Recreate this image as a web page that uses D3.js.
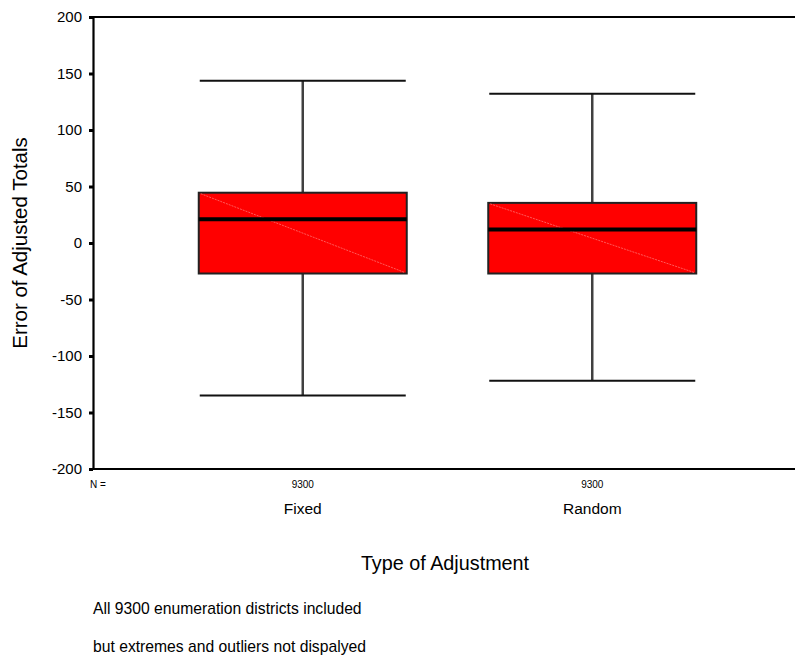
<!DOCTYPE html>
<html>
<head>
<meta charset="utf-8">
<script src="https://cdn.jsdelivr.net/npm/d3@7/dist/d3.min.js"></script>
<style>
  html, body { margin: 0; padding: 0; background: #fff; }
  svg text { font-family: "Liberation Sans", Arial, sans-serif; fill: #000; }
</style>
</head>
<body>
<svg id="chart" width="795" height="655"></svg>
<script>
// Box-plot summaries per adjustment type
const categories = ["Fixed", "Random"];
const counts = [9300, 9300];
const whiskerLow = [-135, -122];
const q1 = [-27, -27];
const medians = [21, 12];
const q3 = [44.5, 35.5];
const whiskerHigh = [143.5, 132];
const yTicks = [200, 150, 100, 50, 0, -50, -100, -150, -200];

const svg = d3.select("#chart");

const plot = { left: 93, right: 795, top: 17, bottom: 469 };

const y = d3.scaleLinear().domain([-200, 200]).range([plot.bottom, plot.top]);
const x = d3.scalePoint().domain(categories).range([158, 737]).padding(0.5);
const boxW = 208;
const capW = 206;

// frame: left axis, top and bottom rules
svg.append("line").attr("x1", plot.left).attr("x2", plot.right)
  .attr("y1", plot.top).attr("y2", plot.top)
  .attr("stroke", "#000").attr("stroke-width", 2);
svg.append("line").attr("x1", plot.left).attr("x2", plot.right)
  .attr("y1", plot.bottom).attr("y2", plot.bottom)
  .attr("stroke", "#000").attr("stroke-width", 2);

const yAxis = d3.axisLeft(y).tickValues(yTicks).tickSize(0).tickPadding(11)
  .tickFormat(d => String(d));
const ga = svg.append("g").attr("transform", `translate(${plot.left},0)`).call(yAxis);
ga.select(".domain").attr("stroke", "#000").attr("stroke-width", 2.2);
ga.selectAll(".tick text").style("font-size", "15px")
  .style("font-family", "Liberation Sans, Arial, sans-serif");
ga.selectAll(".tick").append("rect")
  .attr("x", -4).attr("y", -1.5).attr("width", 4).attr("height", 3).attr("fill", "#000");

// boxes
const data = categories.map((c, i) => ({
  c, n: counts[i], lo: whiskerLow[i], q1: q1[i], med: medians[i], q3: q3[i], hi: whiskerHigh[i]
}));

const g = svg.selectAll(".box").data(data).enter().append("g").attr("class", "box");

g.append("line")
  .attr("x1", d => x(d.c)).attr("x2", d => x(d.c))
  .attr("y1", d => y(d.hi)).attr("y2", d => y(d.q3))
  .attr("stroke", "#404040").attr("stroke-width", 2.5);
g.append("line")
  .attr("x1", d => x(d.c)).attr("x2", d => x(d.c))
  .attr("y1", d => y(d.q1)).attr("y2", d => y(d.lo))
  .attr("stroke", "#404040").attr("stroke-width", 2.5);
g.append("line")
  .attr("x1", d => x(d.c) - capW / 2).attr("x2", d => x(d.c) + capW / 2)
  .attr("y1", d => y(d.hi)).attr("y2", d => y(d.hi))
  .attr("stroke", "#111").attr("stroke-width", 2);
g.append("line")
  .attr("x1", d => x(d.c) - capW / 2).attr("x2", d => x(d.c) + capW / 2)
  .attr("y1", d => y(d.lo)).attr("y2", d => y(d.lo))
  .attr("stroke", "#111").attr("stroke-width", 2);

g.append("rect")
  .attr("x", d => x(d.c) - boxW / 2).attr("width", boxW)
  .attr("y", d => y(d.q3)).attr("height", d => y(d.q1) - y(d.q3))
  .attr("fill", "#ff0000").attr("stroke", "#222").attr("stroke-width", 2);

g.append("line")
  .attr("x1", d => x(d.c) - boxW / 2 + 2).attr("y1", d => y(d.q3) + 1)
  .attr("x2", d => x(d.c) + boxW / 2 - 2).attr("y2", d => y(d.q1) - 1)
  .attr("stroke", "#ff7070").attr("stroke-width", 0.8).attr("stroke-dasharray", "2,1");

g.append("line")
  .attr("x1", d => x(d.c) - boxW / 2).attr("x2", d => x(d.c) + boxW / 2)
  .attr("y1", d => y(d.med)).attr("y2", d => y(d.med))
  .attr("stroke", "#000").attr("stroke-width", 4);

// counts row
svg.append("text").attr("x", 90).attr("y", 488).style("font-size", "10px").text("N =");
g.append("text").attr("x", d => x(d.c)).attr("y", 488).attr("text-anchor", "middle")
  .style("font-size", "10px").text(d => d.n);

// category labels
g.append("text").attr("x", d => x(d.c)).attr("y", 514).attr("text-anchor", "middle")
  .style("font-size", "15.5px").text(d => d.c);

// axis titles
svg.append("text").attr("x", 445).attr("y", 570).attr("text-anchor", "middle")
  .style("font-size", "19.8px").text("Type of Adjustment");
svg.append("text").attr("transform", "translate(27,243) rotate(-90)")
  .attr("text-anchor", "middle").style("font-size", "20.5px").text("Error of Adjusted Totals");

// footnotes
svg.append("text").attr("x", 93).attr("y", 614).style("font-size", "15.7px")
  .text("All 9300 enumeration districts included");
svg.append("text").attr("x", 93).attr("y", 652).style("font-size", "15.7px")
  .text("but extremes and outliers not dispalyed");
</script>
</body>
</html>
